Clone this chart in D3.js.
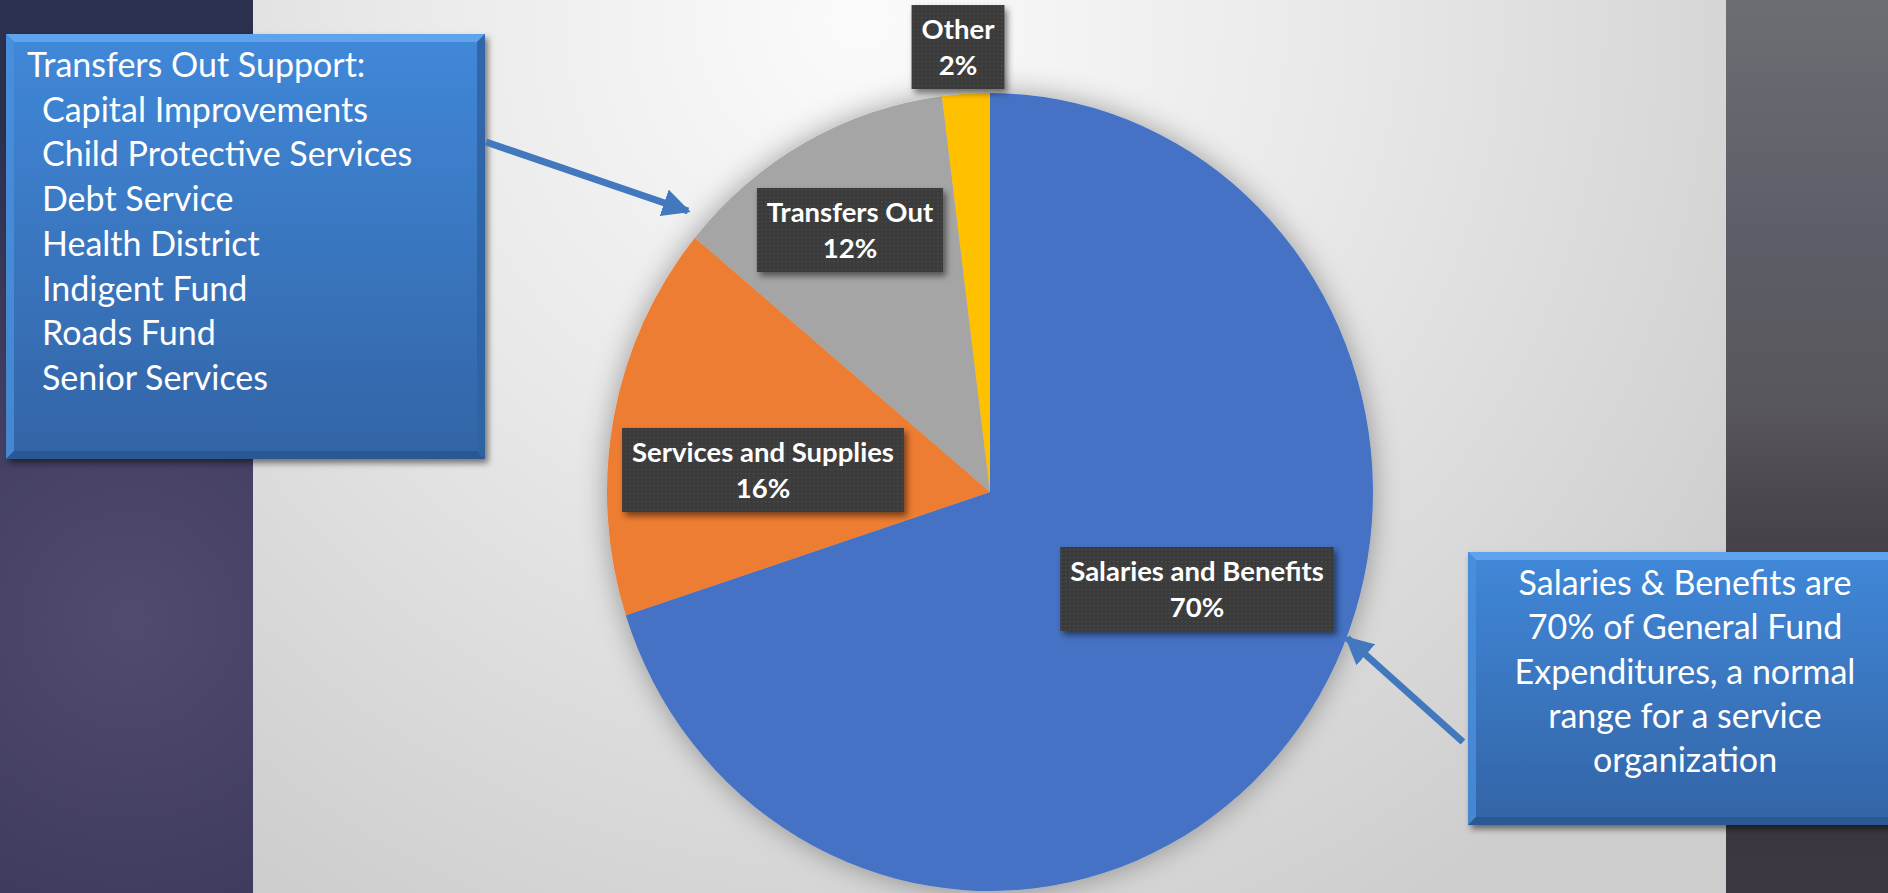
<!DOCTYPE html>
<html><head><meta charset="utf-8">
<script src="https://cdn.jsdelivr.net/npm/d3@7"></script>
<style>html,body{margin:0;padding:0;overflow:hidden;background:#333}</style>
</head><body><svg id="c" width="1888" height="893"></svg>
<script>
// ---- data ----
const categories = ["Salaries and Benefits", "Services and Supplies", "Transfers Out", "Other"];
const shares = [70, 16, 12, 2];
const sliceColors = ["#4472C4", "#ED7D31", "#A5A5A5", "#FFC000"];
const transfersNote = ["Transfers Out Support:", "Capital Improvements", "Child Protective Services", "Debt Service", "Health District", "Indigent Fund", "Roads Fund", "Senior Services"];
const salariesNote = ["Salaries & Benefits are", "70% of General Fund", "Expenditures, a normal", "range for a service", "organization"];

// ---- layout ----
const W = 1888, H = 893;
const cx = 990, cy = 492, rx = 383, ry = 399;
const labelCenters = [[1197, 589], [763, 470], [850, 230], [958, 47]];

const svg = d3.select("#c");
const defs = svg.append("defs");

// gradients
const lg = defs.append("radialGradient").attr("id", "leftBg").attr("gradientUnits", "userSpaceOnUse")
  .attr("cx", 130).attr("cy", 620).attr("r", 520);
lg.append("stop").attr("offset", 0).attr("stop-color", "#504b6f");
lg.append("stop").attr("offset", 0.55).attr("stop-color", "#403c60");
lg.append("stop").attr("offset", 1).attr("stop-color", "#2b304e");

const rg = defs.append("linearGradient").attr("id", "rightBg").attr("x1", 0).attr("y1", 0).attr("x2", 0).attr("y2", 1);
[["0", "#6d6e73"], ["0.25", "#5d5e68"], ["0.45", "#58575c"], ["0.6", "#48424a"], ["0.8", "#3a3439"], ["1", "#3c3742"]]
  .forEach(([o, c]) => rg.append("stop").attr("offset", o).attr("stop-color", c));

const mg = defs.append("radialGradient").attr("id", "midBg").attr("gradientUnits", "userSpaceOnUse")
  .attr("cx", 860).attr("cy", 20).attr("r", 1050);
mg.append("stop").attr("offset", 0).attr("stop-color", "#fbfbfb");
mg.append("stop").attr("offset", 0.45).attr("stop-color", "#e9e9e9");
mg.append("stop").attr("offset", 1).attr("stop-color", "#cdcdcd");

const bg = defs.append("linearGradient").attr("id", "boxFill").attr("x1", 0).attr("y1", 0).attr("x2", 0).attr("y2", 1);
bg.append("stop").attr("offset", 0).attr("stop-color", "#4088d9");
bg.append("stop").attr("offset", 1).attr("stop-color", "#3364a6");

// filters
const f1 = defs.append("filter").attr("id", "pieShadow").attr("x", "-30%").attr("y", "-30%").attr("width", "160%").attr("height", "160%");
f1.append("feDropShadow").attr("dx", 0).attr("dy", 0).attr("stdDeviation", 14).attr("flood-color", "#000").attr("flood-opacity", 0.35);
const f2 = defs.append("filter").attr("id", "boxShadow").attr("x", "-20%").attr("y", "-20%").attr("width", "140%").attr("height", "140%");
f2.append("feDropShadow").attr("dx", 3).attr("dy", 4).attr("stdDeviation", 3).attr("flood-color", "#000").attr("flood-opacity", 0.5);

// dotted label pattern
const pat = defs.append("pattern").attr("id", "dots").attr("patternUnits", "userSpaceOnUse").attr("width", 4).attr("height", 4);
pat.append("rect").attr("width", 4).attr("height", 4).attr("fill", "#3b3b3b");
pat.append("rect").attr("x", 1).attr("y", 1).attr("width", 1.4).attr("height", 1.4).attr("fill", "#4d4d4d");

// arrow marker
defs.append("marker").attr("id", "arrow").attr("viewBox", "0 0 10 10").attr("refX", 9).attr("refY", 5)
  .attr("markerWidth", 4).attr("markerHeight", 4).attr("orient", "auto").attr("markerUnits", "strokeWidth")
  .append("path").attr("d", "M0,0 L10,5 L0,10 Z").attr("fill", "#4178BE");

// backgrounds
svg.append("rect").attr("x", 0).attr("y", 0).attr("width", 254).attr("height", H).attr("fill", "url(#leftBg)");
svg.append("rect").attr("x", 1726).attr("y", 0).attr("width", W - 1726).attr("height", H).attr("fill", "url(#rightBg)");
svg.append("rect").attr("x", 253).attr("y", 0).attr("width", 1473).attr("height", H).attr("fill", "url(#midBg)");

// pie
const pie = d3.pie().sort(null).value(d => d.v);
const pdata = pie(categories.map((c, i) => ({ c, v: shares[i], col: sliceColors[i] })));
const arc = d3.arc().innerRadius(0).outerRadius(rx);
const pg = svg.append("g").attr("transform", `translate(${cx},${cy}) scale(1,${ry / rx})`);
pg.append("g").attr("filter", "url(#pieShadow)")
  .selectAll("path").data(pdata).join("path")
  .attr("d", arc).attr("fill", d => d.data.col);

// data labels
const lblG = svg.append("g").attr("font-family", "Lato, 'Open Sans', sans-serif").attr("font-weight", 700);
pdata.forEach((d, i) => {
  const [lx, ly] = labelCenters[i];
  const g = lblG.append("g");
  const rect = g.append("rect").attr("fill", "url(#dots)").attr("filter", "url(#boxShadow)");
  const t1 = g.append("text").attr("x", lx).attr("y", ly - 8).attr("text-anchor", "middle")
    .attr("font-size", 27.5).attr("fill", "#fff").text(d.data.c);
  const t2 = g.append("text").attr("x", lx).attr("y", ly + 28).attr("text-anchor", "middle")
    .attr("font-size", 27.5).attr("fill", "#fff").text(Math.round(d.data.v) + "%");
  const w = Math.max(t1.node().getComputedTextLength(), t2.node().getComputedTextLength()) + 20;
  rect.attr("x", lx - w / 2).attr("y", ly - 42).attr("width", w).attr("height", 84);
});

// callout boxes
function calloutBox(x, y, w, h) {
  const g = svg.append("g").attr("filter", "url(#boxShadow)");
  g.append("rect").attr("x", x).attr("y", y).attr("width", w).attr("height", h).attr("fill", "url(#boxFill)");
  const b = 8;
  g.append("path").attr("d", `M${x},${y}H${x + w}L${x + w - b},${y + b}H${x + b}Z`).attr("fill", "#62a6f0").attr("opacity", 0.9);
  g.append("path").attr("d", `M${x},${y}L${x + b},${y + b}V${y + h - b}L${x},${y + h}Z`).attr("fill", "#4a90dc").attr("opacity", 0.8);
  g.append("path").attr("d", `M${x},${y + h}L${x + b},${y + h - b}H${x + w - b}L${x + w},${y + h}Z`).attr("fill", "#2b5890").attr("opacity", 0.9);
  g.append("path").attr("d", `M${x + w},${y}L${x + w - b},${y + b}V${y + h - b}L${x + w},${y + h}Z`).attr("fill", "#2f63a3").attr("opacity", 0.9);
  return g;
}
calloutBox(6, 34, 479, 425);
calloutBox(1468, 552, 440, 273);

const noteFont = "Lato, 'Open Sans', sans-serif";
const tl = svg.append("g").attr("font-family", noteFont).attr("font-size", 34).attr("fill", "#fff");
transfersNote.forEach((s, i) => {
  tl.append("text").attr("x", i === 0 ? 27 : 42).attr("y", 77 + i * 44.7).text(s);
});
const tr = svg.append("g").attr("font-family", noteFont).attr("font-size", 34).attr("fill", "#fff").attr("text-anchor", "middle");
salariesNote.forEach((s, i) => {
  tr.append("text").attr("x", 1685).attr("y", 595 + i * 44.3).text(s);
});

// arrows
svg.append("line").attr("x1", 486).attr("y1", 142).attr("x2", 688).attr("y2", 211)
  .attr("stroke", "#4178BE").attr("stroke-width", 7).attr("marker-end", "url(#arrow)");
svg.append("line").attr("x1", 1463).attr("y1", 742).attr("x2", 1347).attr("y2", 638)
  .attr("stroke", "#4178BE").attr("stroke-width", 7).attr("marker-end", "url(#arrow)");
</script>
</body></html>
